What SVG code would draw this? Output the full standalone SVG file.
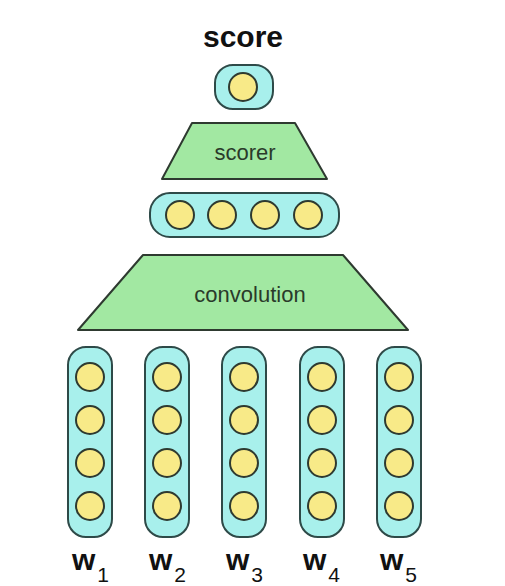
<svg xmlns="http://www.w3.org/2000/svg" width="505" height="586" viewBox="0 0 505 586">
<style>
.pill{fill:#a8f0ec;stroke:#2e4a48;stroke-width:2}
.unit{fill:#f8ea88;stroke:#2e3a30;stroke-width:2}
.trap{fill:#a2e8a2;stroke:#2e3a30;stroke-width:2;stroke-linejoin:round}
.lbl{font-family:"Liberation Sans",Arial,sans-serif;font-size:22px;fill:#2a3a2a;text-anchor:middle}
.big{font-family:"Liberation Sans",Arial,sans-serif;font-weight:bold;font-size:30px;fill:#111}
.sub{font-family:"Liberation Sans",Arial,sans-serif;font-size:21px;fill:#111}
</style>
<rect width="505" height="586" fill="#ffffff"/>
<g id="score-label"><text class="big" x="243" y="47" text-anchor="middle">score</text></g>
<g id="score-node">
<rect class="pill" x="215" y="65" width="58" height="44" rx="18"/>
<circle class="unit" cx="243" cy="87" r="14"/>
</g>
<g id="scorer">
<polygon class="trap" points="192,123 295,123 327,179 162,179"/>
<text class="lbl" x="245" y="160">scorer</text>
</g>
<g id="hidden">
<rect class="pill" x="150" y="193" width="189" height="44" rx="20"/>
<circle class="unit" cx="180" cy="215" r="14"/>
<circle class="unit" cx="222" cy="215" r="14"/>
<circle class="unit" cx="265" cy="215" r="14"/>
<circle class="unit" cx="308" cy="215" r="14"/>
</g>
<g id="convolution">
<polygon class="trap" points="143,255 343,255 408,330 78,330"/>
<text class="lbl" x="250" y="302">convolution</text>
</g>
<g id="w1">
<rect class="pill" x="68" y="347" width="44" height="190" rx="18"/>
<circle class="unit" cx="90" cy="377" r="14"/><circle class="unit" cx="90" cy="420" r="14"/><circle class="unit" cx="90" cy="463" r="14"/><circle class="unit" cx="90" cy="506" r="14"/>
<text x="72" y="570"><tspan class="big">w</tspan><tspan class="sub" dx="2" dy="12">1</tspan></text>
</g>
<g id="w2">
<rect class="pill" x="145" y="347" width="44" height="190" rx="18"/>
<circle class="unit" cx="167" cy="377" r="14"/><circle class="unit" cx="167" cy="420" r="14"/><circle class="unit" cx="167" cy="463" r="14"/><circle class="unit" cx="167" cy="506" r="14"/>
<text x="149" y="570"><tspan class="big">w</tspan><tspan class="sub" dx="2" dy="12">2</tspan></text>
</g>
<g id="w3">
<rect class="pill" x="222" y="347" width="44" height="190" rx="18"/>
<circle class="unit" cx="244" cy="377" r="14"/><circle class="unit" cx="244" cy="420" r="14"/><circle class="unit" cx="244" cy="463" r="14"/><circle class="unit" cx="244" cy="506" r="14"/>
<text x="226" y="570"><tspan class="big">w</tspan><tspan class="sub" dx="2" dy="12">3</tspan></text>
</g>
<g id="w4">
<rect class="pill" x="300" y="347" width="44" height="190" rx="18"/>
<circle class="unit" cx="322" cy="377" r="14"/><circle class="unit" cx="322" cy="420" r="14"/><circle class="unit" cx="322" cy="463" r="14"/><circle class="unit" cx="322" cy="506" r="14"/>
<text x="303" y="570"><tspan class="big">w</tspan><tspan class="sub" dx="2" dy="12">4</tspan></text>
</g>
<g id="w5">
<rect class="pill" x="377" y="347" width="44" height="190" rx="18"/>
<circle class="unit" cx="399" cy="377" r="14"/><circle class="unit" cx="399" cy="420" r="14"/><circle class="unit" cx="399" cy="463" r="14"/><circle class="unit" cx="399" cy="506" r="14"/>
<text x="380" y="570"><tspan class="big">w</tspan><tspan class="sub" dx="2" dy="12">5</tspan></text>
</g>
<g id="connectors"></g>
</svg>
